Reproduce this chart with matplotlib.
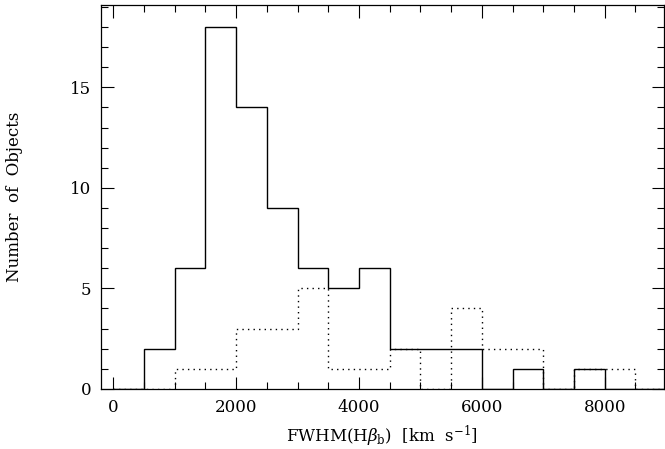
import numpy as np
import matplotlib
matplotlib.use('Agg')
import matplotlib.pyplot as plt
from matplotlib.ticker import MultipleLocator

# bin edges (km/s) and counts
edges = np.arange(0, 9001, 500)
solid_counts = [0, 2, 6, 18, 14, 9, 6, 5, 6, 2, 2, 2, 0, 1, 0, 1, 0, 0]
dotted_counts = [0, 0, 1, 1, 3, 3, 5, 1, 1, 2, 0, 4, 2, 2, 0, 1, 1, 0]

plt.rcParams['font.family'] = 'DejaVu Serif'
plt.rcParams['mathtext.fontset'] = 'dejavuserif'

fig = plt.figure(figsize=(6.65, 4.49), dpi=100)
ax = fig.add_axes([0.152, 0.134, 0.846, 0.855])

ax.stairs(dotted_counts, edges, baseline=None, color='black', lw=1.0,
          linestyle=(0, (1, 3)))
ax.stairs(solid_counts, edges, baseline=None, color='black', lw=1.0)

ax.set_xlim(-200, 8960)
ax.set_ylim(0, 19.1)

ax.xaxis.set_major_locator(MultipleLocator(2000))
ax.xaxis.set_minor_locator(MultipleLocator(500))
ax.yaxis.set_major_locator(MultipleLocator(5))
ax.yaxis.set_minor_locator(MultipleLocator(1))
ax.tick_params(which='both', direction='in', top=True, right=True,
               labelsize=12, width=0.8)
ax.tick_params(which='major', length=9, pad=7)
ax.tick_params(which='minor', length=5)
for s in ax.spines.values():
    s.set_linewidth(0.9)

ax.set_xlabel(r'FWHM(H$\beta_{\rm b}$)  [km  s$^{-1}$]', fontsize=12, labelpad=6)
ax.set_ylabel('Number  of  Objects', fontsize=12, labelpad=34)

fig.savefig('out.png', dpi=100)
